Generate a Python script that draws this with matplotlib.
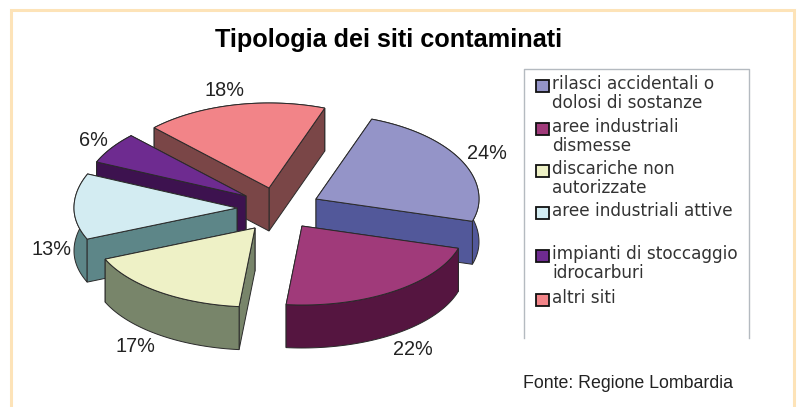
"""
Torta 3D esplosa: tipologia dei siti contaminati
"""
import numpy as np
import matplotlib
matplotlib.use('Agg')
import matplotlib.pyplot as plt
from matplotlib.patches import Polygon, Rectangle

categories = ['rilasci accidentali o\ndolosi di sostanze', 'aree industriali\ndismesse',
              'discariche non\nautorizzate', 'aree industriali attive',
              'impianti di stoccaggio\nidrocarburi', 'altri siti']
values = [24, 22, 17, 13, 6, 18]

# spostamento di ogni fetta rispetto al centro, in pixel
shift_x = [41, 27, -20, -38, -29, -6]
shift_y = [-8, 19, 21, 1, -11, -19]
label_r = [237, 247, 237, 224, 220, 235]

top_colors = ['#9494C8', '#A03A7A', '#EEF1C6', '#D3ECF2', '#6E2B90', '#F28488']
side_colors = ['#52589A', '#551540', '#78856A', '#5D8688', '#3D124F', '#7A4647']
draw_order = [5, 0, 4, 3, 1, 2]

# geometria in pixel (la prospettiva allunga la meta' dietro)
cx, cy = 275, 207
rx = 163
ry_back, ry_front = 85, 79
h = 43
start = 20.0
edge = '#2A2A2A'

plt.rcParams['font.family'] = ['Liberation Sans', 'DejaVu Sans']
fig = plt.figure(figsize=(7.99, 4.07), dpi=100)
ax = fig.add_axes([0, 0, 1, 1])
ax.set_xlim(0, 799)
ax.set_ylim(407, 0)
ax.axis('off')

# cornice arancio chiaro, aperta in basso
ax.plot([10.5, 10.5, 793.5, 793.5], [407, 9.5, 9.5, 407], color='#FDE3B8', lw=2.2, solid_joinstyle='miter')

fracs = np.array(values) / sum(values) * 360
ends = start + np.cumsum(fracs)
starts = ends - fracs
mids = (starts + ends) / 2


def point(x0, y0, deg):
    t = np.radians(deg)
    c = np.cos(t)
    return x0 + rx * np.sin(t), y0 - np.where(c > 0, ry_back, ry_front) * c


for i in draw_order:
    x0 = cx + shift_x[i]
    y0 = cy + shift_y[i]
    ang = np.linspace(starts[i], ends[i], 60)
    ax_x, ax_y = point(x0, y0, ang)
    arc = np.column_stack([ax_x, ax_y])
    apex = np.array([x0, y0])
    down = np.array([0, h])
    walls = [np.array([apex, arc[0], arc[0] + down, apex + down]),
             np.array([apex, arc[-1], arc[-1] + down, apex + down]),
             np.vstack([arc, (arc + down)[::-1]])]
    # prima le pareti dietro
    walls.sort(key=lambda w: w[:, 1].mean())
    for w in walls:
        ax.add_patch(Polygon(w, closed=True, fc=side_colors[i], ec=edge, lw=0.7))
    ax.add_patch(Polygon(np.vstack([apex, arc]), closed=True, fc=top_colors[i], ec=edge, lw=0.7))

# etichette percentuali
for v, md, r in zip(values, mids, label_r):
    t = np.radians(md)
    lx = cx + r * np.sin(t)
    ly = cy + 1 - 120 * np.cos(t) + (42 if np.cos(t) < 0.1 else 0)
    ax.text(lx, ly, '%d%%' % v, ha='center', va='center', fontsize=14.3, color='#222222')

ax.text(389, 40, 'Tipologia dei siti contaminati', ha='center', va='center',
        fontsize=18.2, fontweight='bold', color='black')

# legenda, aperta in basso
ax.plot([524, 524, 749, 749], [338, 69, 69, 338], color='#B4BAC0', lw=1.0)
leg_y = [86, 129, 171, 213, 256, 300]
for cat, col, y in zip(categories, top_colors, leg_y):
    ax.add_patch(Rectangle((535.5, y - 6), 13, 12, fc=col, ec='#111111', lw=1.3))
    ax.text(552, y - 11, cat, ha='left', va='top', fontsize=12.2, color='#333333',
            family='DejaVu Sans', linespacing=1.08)

ax.text(523, 384, 'Fonte: Regione Lombardia', ha='left', va='center', fontsize=12.8, color='#222222')

fig.savefig('out.png', dpi=100)
